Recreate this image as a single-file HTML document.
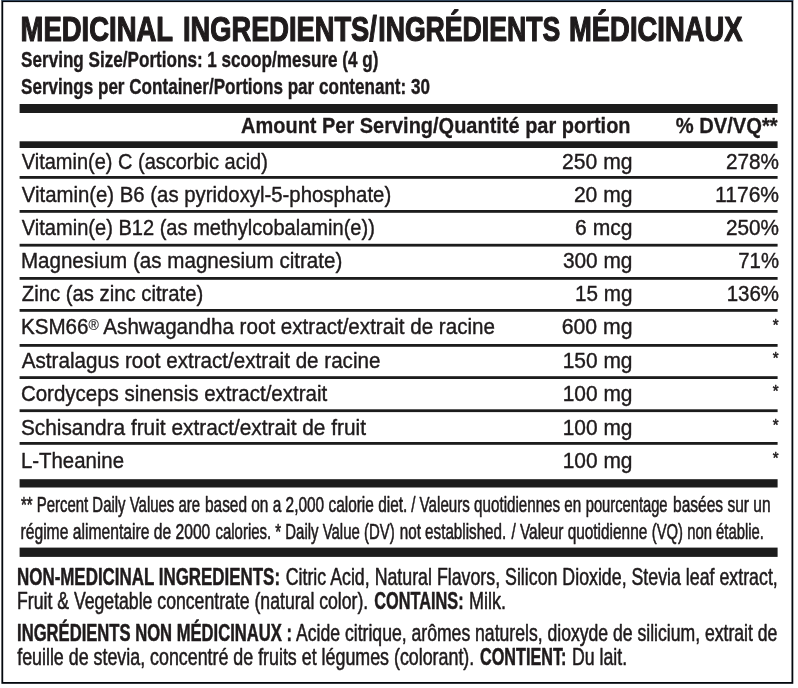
<!DOCTYPE html>
<html><head><meta charset="utf-8"><title>Medicinal Ingredients</title>
<style>
html,body{margin:0;padding:0;background:#fff;}
body{width:798px;height:688px;overflow:hidden;}
svg{display:block;}
text{font-family:"Liberation Sans",Arial,sans-serif;fill:#1f1b1c;stroke:#1f1b1c;stroke-linejoin:round;}
</style></head><body>
<svg width="798" height="688" viewBox="0 0 798 688">
<rect x="0" y="0" width="798" height="688" fill="#fff"/>
<rect x="2.3" y="1.2" width="790.1" height="681.7" fill="none" stroke="#03070d" stroke-width="1.8"/>
<rect x="1.4" y="0" width="791.9" height="0.9" fill="#2f4760"/>
<g fill="#1c1c1c">
<rect x="19.60" y="104.00" width="758.00" height="9.00"/>
<rect x="19.60" y="141.30" width="758.00" height="6.70"/>
<rect x="19.60" y="176.00" width="758.00" height="2.80"/>
<rect x="19.60" y="210.00" width="758.00" height="2.80"/>
<rect x="19.60" y="243.80" width="758.00" height="2.80"/>
<rect x="19.60" y="277.00" width="758.00" height="2.80"/>
<rect x="19.60" y="309.00" width="758.00" height="2.80"/>
<rect x="19.60" y="344.00" width="758.00" height="2.80"/>
<rect x="19.60" y="376.20" width="758.00" height="2.80"/>
<rect x="19.60" y="409.30" width="758.00" height="2.80"/>
<rect x="19.60" y="442.00" width="758.00" height="2.80"/>
<rect x="19.60" y="479.20" width="758.00" height="8.30"/>
<rect x="19.60" y="547.60" width="758.00" height="9.30"/>
</g>
<g>
<text x="20.52" y="40.50" font-size="34.8" font-weight="700" stroke-width="1.2" textLength="152.58" lengthAdjust="spacingAndGlyphs">MEDICINAL</text>
<text x="183.03" y="40.50" font-size="34.8" font-weight="700" stroke-width="1.2" textLength="193.81" lengthAdjust="spacingAndGlyphs">INGREDIENTS/</text>
<text x="378.27" y="40.50" font-size="34.8" font-weight="700" stroke-width="1.2" textLength="181.96" lengthAdjust="spacingAndGlyphs">INGRÉDIENTS</text>
<text x="569.03" y="40.50" font-size="34.8" font-weight="700" stroke-width="1.2" textLength="173.54" lengthAdjust="spacingAndGlyphs">MÉDICINAUX</text>
<text x="21.10" y="66.90" font-size="22.2" font-weight="700" stroke-width="0.4" textLength="357.30" lengthAdjust="spacingAndGlyphs">Serving Size/Portions: 1 scoop/mesure (4 g)</text>
<text x="21.10" y="93.80" font-size="22.2" font-weight="700" stroke-width="0.4" textLength="408.86" lengthAdjust="spacingAndGlyphs">Servings per Container/Portions par contenant: 30</text>
<text x="241.05" y="133.15" font-size="22.8" font-weight="700" stroke-width="0.3" textLength="389.51" lengthAdjust="spacingAndGlyphs">Amount Per Serving/Quantité par portion</text>
<text x="675.75" y="133.15" font-size="22.8" font-weight="700" stroke-width="0.3" textLength="101.89" lengthAdjust="spacingAndGlyphs">% DV/VQ**</text>
<text x="21.81" y="168.59" font-size="22.7" stroke-width="0.42" textLength="246.07" lengthAdjust="spacingAndGlyphs">Vitamin(e) C (ascorbic acid)</text>
<text x="562.08" y="168.59" font-size="22.7" stroke-width="0.42" textLength="70.38" lengthAdjust="spacingAndGlyphs">250 mg</text>
<text x="726.00" y="168.59" font-size="22.7" stroke-width="0.42" textLength="53.05" lengthAdjust="spacingAndGlyphs">278%</text>
<text x="21.81" y="201.79" font-size="22.7" stroke-width="0.42" textLength="369.38" lengthAdjust="spacingAndGlyphs">Vitamin(e) B6 (as pyridoxyl-5-phosphate)</text>
<text x="573.88" y="201.79" font-size="22.7" stroke-width="0.42" textLength="58.58" lengthAdjust="spacingAndGlyphs">20 mg</text>
<text x="715.08" y="201.79" font-size="22.7" stroke-width="0.42" textLength="63.97" lengthAdjust="spacingAndGlyphs">1176%</text>
<text x="21.81" y="235.09" font-size="22.7" stroke-width="0.42" textLength="353.07" lengthAdjust="spacingAndGlyphs">Vitamin(e) B12 (as methylcobalamin(e))</text>
<text x="575.08" y="235.09" font-size="22.7" stroke-width="0.42" textLength="57.38" lengthAdjust="spacingAndGlyphs">6 mcg</text>
<text x="726.00" y="235.09" font-size="22.7" stroke-width="0.42" textLength="53.05" lengthAdjust="spacingAndGlyphs">250%</text>
<text x="20.90" y="268.29" font-size="22.7" stroke-width="0.42" textLength="321.39" lengthAdjust="spacingAndGlyphs">Magnesium (as magnesium citrate)</text>
<text x="562.91" y="268.29" font-size="22.7" stroke-width="0.42" textLength="69.55" lengthAdjust="spacingAndGlyphs">300 mg</text>
<text x="738.31" y="268.29" font-size="22.7" stroke-width="0.42" textLength="40.73" lengthAdjust="spacingAndGlyphs">71%</text>
<text x="21.81" y="300.79" font-size="22.7" stroke-width="0.42" textLength="181.48" lengthAdjust="spacingAndGlyphs">Zinc (as zinc citrate)</text>
<text x="575.10" y="300.79" font-size="22.7" stroke-width="0.42" textLength="57.35" lengthAdjust="spacingAndGlyphs">15 mg</text>
<text x="726.71" y="300.79" font-size="22.7" stroke-width="0.42" textLength="52.34" lengthAdjust="spacingAndGlyphs">136%</text>
<text x="20.91" y="334.19" font-size="22.7" stroke-width="0.42" textLength="474.03" lengthAdjust="spacingAndGlyphs">KSM66<tspan font-size="15.4" stroke-width="0.15" fill="#262626" dy="-4.0">®</tspan><tspan dy="4.0"> Ashwagandha root extract/extrait de racine</tspan></text>
<text x="561.67" y="334.19" font-size="22.7" stroke-width="0.42" textLength="70.79" lengthAdjust="spacingAndGlyphs">600 mg</text>
<text x="21.81" y="367.79" font-size="22.7" stroke-width="0.42" textLength="358.64" lengthAdjust="spacingAndGlyphs">Astralagus root extract/extrait de racine</text>
<text x="562.69" y="367.79" font-size="22.7" stroke-width="0.42" textLength="69.77" lengthAdjust="spacingAndGlyphs">150 mg</text>
<text x="20.91" y="401.09" font-size="22.7" stroke-width="0.42" textLength="306.25" lengthAdjust="spacingAndGlyphs">Cordyceps sinensis extract/extrait</text>
<text x="562.69" y="401.09" font-size="22.7" stroke-width="0.42" textLength="69.77" lengthAdjust="spacingAndGlyphs">100 mg</text>
<text x="20.89" y="434.79" font-size="22.7" stroke-width="0.42" textLength="345.06" lengthAdjust="spacingAndGlyphs">Schisandra fruit extract/extrait de fruit</text>
<text x="562.69" y="434.79" font-size="22.7" stroke-width="0.42" textLength="69.77" lengthAdjust="spacingAndGlyphs">100 mg</text>
<text x="20.91" y="467.79" font-size="22.7" stroke-width="0.42" textLength="103.13" lengthAdjust="spacingAndGlyphs">L-Theanine</text>
<text x="562.69" y="467.79" font-size="22.7" stroke-width="0.42" textLength="69.77" lengthAdjust="spacingAndGlyphs">100 mg</text>
<text x="20.90" y="511.50" font-size="22.7" stroke-width="0.6" textLength="179.21" lengthAdjust="spacingAndGlyphs">** Percent Daily Values are</text>
<text x="205.02" y="511.50" font-size="22.7" stroke-width="0.6" textLength="202.27" lengthAdjust="spacingAndGlyphs">based on a 2,000 calorie diet.</text>
<text x="411.20" y="511.50" font-size="22.7" stroke-width="0.6" textLength="170.01" lengthAdjust="spacingAndGlyphs">/ Valeurs quotidiennes en</text>
<text x="585.75" y="511.50" font-size="22.7" stroke-width="0.6" textLength="81.75" lengthAdjust="spacingAndGlyphs">pourcentage</text>
<text x="673.12" y="511.50" font-size="22.7" stroke-width="0.6" textLength="97.41" lengthAdjust="spacingAndGlyphs">basées sur un</text>
<text x="20.51" y="539.40" font-size="22.7" stroke-width="0.6" textLength="189.82" lengthAdjust="spacingAndGlyphs">régime alimentaire de 2000</text>
<text x="215.50" y="539.40" font-size="22.7" stroke-width="0.6" textLength="179.17" lengthAdjust="spacingAndGlyphs">calories. * Daily Value (DV)</text>
<text x="399.73" y="539.40" font-size="22.7" stroke-width="0.6" textLength="106.54" lengthAdjust="spacingAndGlyphs">not established.</text>
<text x="511.40" y="539.40" font-size="22.7" stroke-width="0.6" textLength="135.92" lengthAdjust="spacingAndGlyphs">/ Valeur quotidienne</text>
<text x="651.75" y="539.40" font-size="22.7" stroke-width="0.6" textLength="112.11" lengthAdjust="spacingAndGlyphs">(VQ) non établie.</text>
<text x="17.03" y="585.05" font-size="23.4" font-weight="700" stroke-width="0.5" textLength="263.02" lengthAdjust="spacingAndGlyphs">NON-MEDICINAL INGREDIENTS:</text>
<text x="285.72" y="585.02" font-size="23.4" stroke-width="0.55" textLength="492.05" lengthAdjust="spacingAndGlyphs">Citric Acid, Natural Flavors, Silicon Dioxide, Stevia leaf extract,</text>
<text x="17.02" y="609.12" font-size="23.4" stroke-width="0.55" textLength="351.24" lengthAdjust="spacingAndGlyphs">Fruit &amp; Vegetable concentrate (natural color).</text>
<text x="374.35" y="609.15" font-size="23.4" font-weight="700" stroke-width="0.5" textLength="89.25" lengthAdjust="spacingAndGlyphs">CONTAINS:</text>
<text x="468.90" y="609.12" font-size="23.4" stroke-width="0.55" textLength="37.08" lengthAdjust="spacingAndGlyphs">Milk.</text>
<text x="17.04" y="641.35" font-size="23.4" font-weight="700" stroke-width="0.5" textLength="274.98" lengthAdjust="spacingAndGlyphs">INGRÉDIENTS NON MÉDICINAUX :</text>
<text x="296.07" y="641.33" font-size="23.4" stroke-width="0.55" textLength="481.31" lengthAdjust="spacingAndGlyphs">Acide citrique, arômes naturels, dioxyde de silicium, extrait de</text>
<text x="17.18" y="664.93" font-size="23.4" stroke-width="0.55" textLength="457.09" lengthAdjust="spacingAndGlyphs">feuille de stevia, concentré de fruits et légumes (colorant).</text>
<text x="480.05" y="664.95" font-size="23.4" font-weight="700" stroke-width="0.5" textLength="86.34" lengthAdjust="spacingAndGlyphs">CONTIENT:</text>
<text x="572.02" y="664.93" font-size="23.4" stroke-width="0.55" textLength="55.14" lengthAdjust="spacingAndGlyphs">Du lait.</text>
<text x="772.65" y="330.50" font-size="16.2" stroke-width="0.5" textLength="5.85" lengthAdjust="spacingAndGlyphs">*</text>
<text x="772.65" y="364.10" font-size="16.2" stroke-width="0.5" textLength="5.85" lengthAdjust="spacingAndGlyphs">*</text>
<text x="772.65" y="397.40" font-size="16.2" stroke-width="0.5" textLength="5.85" lengthAdjust="spacingAndGlyphs">*</text>
<text x="772.65" y="431.10" font-size="16.2" stroke-width="0.5" textLength="5.85" lengthAdjust="spacingAndGlyphs">*</text>
<text x="772.65" y="464.10" font-size="16.2" stroke-width="0.5" textLength="5.85" lengthAdjust="spacingAndGlyphs">*</text>
</g>
</svg>
</body></html>
